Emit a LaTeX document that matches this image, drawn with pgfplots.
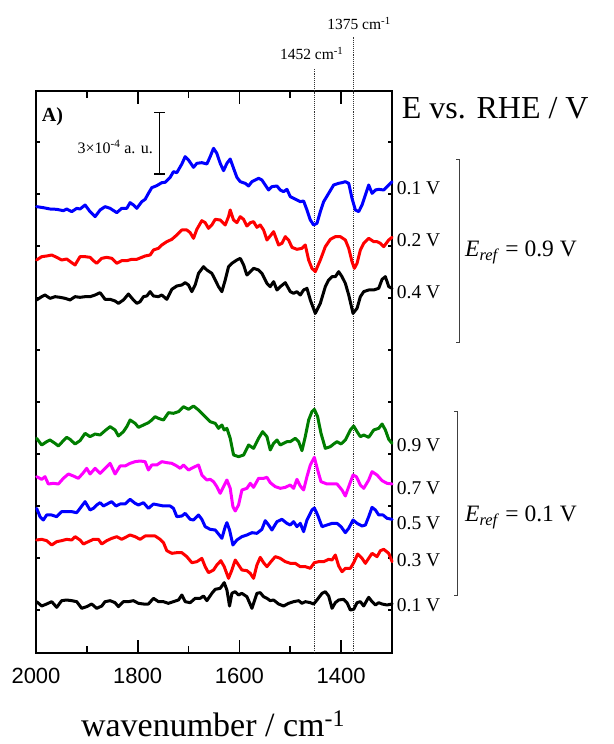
\documentclass[border=0pt]{standalone}
\usepackage{pgfplots}
\pgfplotsset{compat=1.18}
\usepackage{fontspec}
\setmainfont{Liberation Serif}
\newfontfamily\sansfont{Liberation Sans}
\definecolor{cgreen}{RGB}{0,125,0}
\definecolor{cmag}{RGB}{255,0,255}
\definecolor{cblue}{RGB}{0,0,255}
\definecolor{cred}{RGB}{255,0,0}
\begin{document}
\begin{tikzpicture}
\path[use as bounding box] (-36pt,-91pt) rectangle (577pt,653pt);
\begin{axis}[
  at={(0pt,0pt)}, anchor=south west,
  scale only axis, width=356pt, height=562pt,
  xmin=1300, xmax=2000, x dir=reverse,
  ymin=0, ymax=1686,
  clip=false,
  axis line style={line width=2.4pt},
  xtick={2000,1800,1600,1400},
  xticklabels={2000,1800,1600,1400},
  minor xtick={1900,1700,1500,1300},
  ytick={129,285,441,597,753,909,1065,1221,1377,1533},
  yticklabels={},
  tick align=inside,
  major tick length=13pt, minor tick length=7pt,
  xtick style={line width=1.8pt, black},
  minor tick style={line width=1.8pt, black},
  ytick style={line width=1.6pt, black, /pgfplots/major tick length=4pt},
  xticklabel style={font=\sansfont\fontsize{22}{22}\selectfont, anchor=center, yshift=-22.7pt},
  every axis plot/.append style={line join=round, line cap=round},
]
% reference lines
\addplot[densely dotted, line width=0.9pt, black!80, line cap=butt] coordinates {(1452,0) (1452,1755)};
\addplot[densely dotted, line width=0.9pt, black!80, line cap=butt] coordinates {(1375,0) (1375,1848)};

% E_ref = 0.9 V group
\addplot[cblue, line width=3pt] coordinates {
(1998.7,1339) (1985.6,1336) (1972.4,1332) (1959.3,1331) (1946.2,1327) (1939.6,1332) (1929.8,1324) (1919.9,1334) (1913.4,1332) (1903.5,1344)
(1893.7,1324) (1883.8,1309) (1874.0,1329) (1864.2,1339) (1854.3,1334) (1841.2,1321) (1831.4,1334) (1821.5,1334) (1815.0,1351) (1808.4,1344)
(1801.8,1334) (1792.0,1354) (1785.4,1361) (1778.9,1379) (1772.3,1396) (1762.5,1402) (1752.6,1411) (1746.1,1412) (1736.2,1427) (1729.7,1444)
(1723.1,1441) (1713.2,1467) (1706.7,1489) (1700.1,1479) (1690.3,1457) (1683.7,1469) (1673.9,1471) (1664.0,1467) (1657.5,1489) (1650.9,1514)
(1644.4,1499) (1637.8,1469) (1631.2,1447) (1624.6,1469) (1618.1,1482) (1611.5,1454) (1605.0,1427) (1598.4,1414) (1588.6,1409) (1582.0,1401)
(1575.4,1414) (1568.9,1419) (1562.3,1424) (1555.8,1419) (1549.2,1404) (1542.6,1389) (1536.1,1399) (1526.2,1401) (1519.7,1389) (1513.1,1384)
(1506.6,1391) (1500.0,1369) (1493.4,1364) (1486.9,1359) (1480.3,1354) (1473.8,1356) (1467.2,1329) (1460.6,1299) (1454.1,1284) (1447.5,1289)
(1440.9,1324) (1434.3,1354) (1424.5,1379) (1414.7,1404) (1404.8,1409) (1398.3,1411) (1391.7,1414) (1385.1,1409) (1378.6,1364) (1372.0,1329)
(1365.4,1324) (1358.9,1344) (1352.3,1374) (1345.8,1404) (1339.2,1379) (1332.6,1389) (1326.1,1391) (1316.2,1389) (1309.7,1399) (1299.8,1414)};
\addplot[cred, line width=3pt] coordinates {
(1998.7,1179) (1988.8,1189) (1979.0,1191) (1969.1,1194) (1959.3,1187) (1949.5,1179) (1939.6,1182) (1929.8,1171) (1923.2,1164) (1913.4,1189)
(1903.5,1189) (1893.7,1187) (1887.1,1177) (1880.6,1169) (1870.7,1184) (1860.9,1187) (1851.0,1184) (1841.2,1169) (1831.4,1177) (1821.5,1177)
(1811.7,1181) (1801.8,1181) (1792.0,1187) (1785.4,1191) (1775.6,1194) (1769.0,1209) (1759.2,1214) (1752.6,1224) (1742.8,1234) (1732.9,1241)
(1723.1,1254) (1713.2,1269) (1703.4,1269) (1696.8,1261) (1690.3,1244) (1683.7,1271) (1673.9,1297) (1667.3,1291) (1660.8,1274) (1654.2,1284)
(1647.6,1301) (1637.8,1299) (1627.9,1284) (1621.4,1309) (1618.1,1329) (1611.5,1299) (1605.0,1291) (1598.4,1309) (1591.8,1301) (1585.3,1281)
(1578.7,1291) (1572.2,1294) (1565.6,1277) (1559.0,1284) (1552.5,1269) (1545.9,1239) (1539.4,1251) (1532.8,1264) (1523.0,1224) (1516.4,1229)
(1509.8,1249) (1503.3,1239) (1496.7,1217) (1486.9,1211) (1477.0,1214) (1470.5,1224) (1463.9,1179) (1457.4,1154) (1450.8,1144) (1440.9,1179)
(1431.1,1219) (1421.2,1241) (1411.4,1249) (1401.5,1249) (1391.7,1239) (1385.1,1214) (1378.6,1174) (1374.0,1154) (1368.7,1169) (1362.2,1209)
(1355.6,1229) (1345.8,1244) (1335.9,1234) (1329.4,1234) (1322.8,1229) (1316.2,1219) (1306.4,1239) (1299.8,1247)};
\addplot[black, line width=3pt] coordinates {
(1998.7,1059) (1988.8,1069) (1982.3,1074) (1972.4,1064) (1962.6,1069) (1952.7,1067) (1942.9,1064) (1933.1,1059) (1923.2,1069) (1913.4,1067)
(1903.5,1069) (1893.7,1069) (1883.8,1074) (1874.0,1081) (1864.2,1061) (1854.3,1061) (1844.5,1056) (1837.9,1049) (1828.1,1059) (1818.2,1077)
(1808.4,1059) (1801.8,1049) (1795.3,1054) (1788.7,1069) (1782.1,1071) (1775.6,1084) (1769.0,1071) (1759.2,1069) (1752.6,1074) (1742.8,1061)
(1732.9,1091) (1723.1,1101) (1713.2,1104) (1706.7,1111) (1700.1,1104) (1693.6,1084) (1687.0,1104) (1680.4,1139) (1670.6,1159) (1664.0,1149)
(1654.2,1139) (1647.6,1119) (1641.1,1099) (1634.5,1084) (1627.9,1119) (1621.4,1159) (1614.8,1169) (1605.0,1179) (1598.4,1184) (1591.8,1164)
(1585.3,1134) (1578.7,1144) (1572.2,1154) (1562.3,1149) (1555.8,1139) (1545.9,1109) (1539.4,1099) (1532.8,1114) (1526.2,1089) (1519.7,1099)
(1509.8,1111) (1500.0,1084) (1493.4,1079) (1486.9,1084) (1480.3,1074) (1473.8,1089) (1467.2,1094) (1460.6,1059) (1450.8,1019) (1440.9,1049)
(1431.1,1099) (1424.5,1119) (1417.9,1129) (1411.4,1129) (1404.8,1144) (1398.3,1129) (1391.7,1109) (1385.1,1074) (1376.6,1019) (1368.7,1034)
(1362.2,1069) (1355.6,1084) (1345.8,1089) (1335.9,1089) (1326.1,1094) (1319.5,1121) (1313.0,1129) (1306.4,1099) (1299.8,1094)};

% E_ref = 0.1 V group
\addplot[cgreen, line width=3pt] coordinates {
(1998.7,644) (1988.8,624) (1979.0,634) (1972.4,639) (1962.6,629) (1956.0,621) (1946.2,637) (1939.6,647) (1933.1,641) (1923.2,627)
(1913.4,637) (1903.5,659) (1893.7,649) (1883.8,657) (1874.0,654) (1864.2,667) (1854.3,679) (1844.5,669) (1837.9,651) (1828.1,664)
(1821.5,679) (1815.0,699) (1805.1,689) (1798.5,677) (1788.7,684) (1778.9,691) (1772.3,699) (1765.7,709) (1759.2,704) (1749.3,699)
(1739.5,721) (1729.7,719) (1719.8,724) (1710.0,739) (1700.1,731) (1690.3,741) (1680.4,729) (1670.6,714) (1657.5,694) (1647.6,689)
(1641.1,674) (1634.5,684) (1629.9,669) (1624.6,674) (1618.1,644) (1611.5,594) (1601.7,589) (1591.8,594) (1582.0,624) (1572.2,614)
(1562.3,644) (1554.4,664) (1545.9,649) (1539.4,609) (1532.8,629) (1526.2,639) (1519.7,624) (1513.1,629) (1506.6,634) (1500.0,634)
(1490.2,644) (1483.6,634) (1477.0,607) (1470.5,649) (1463.9,699) (1457.4,724) (1452.7,731) (1446.2,709) (1439.6,659) (1431.1,614)
(1421.2,619) (1414.7,627) (1408.1,634) (1400.2,627) (1391.7,639) (1381.9,669) (1375.3,681) (1368.7,664) (1362.2,649) (1355.6,654)
(1345.8,647) (1335.9,669) (1326.1,674) (1319.5,687) (1313.0,669) (1306.4,641) (1299.8,629)};
\addplot[cmag, line width=3pt] coordinates {
(1998.7,529) (1988.8,521) (1982.3,529) (1975.7,507) (1965.9,509) (1956.0,507) (1946.2,524) (1936.3,537) (1926.5,531) (1916.7,524)
(1906.8,541) (1900.3,554) (1893.7,537) (1883.8,554) (1874.0,539) (1864.2,554) (1854.3,569) (1844.5,537) (1834.6,561) (1824.8,561)
(1815.0,569) (1805.1,574) (1795.3,576) (1785.4,574) (1778.9,549) (1772.3,564) (1762.5,564) (1752.6,574) (1742.8,571) (1732.9,569)
(1723.1,561) (1716.5,554) (1710.0,564) (1700.1,549) (1690.3,557) (1680.4,564) (1673.9,534) (1664.0,519) (1657.5,521) (1650.9,514)
(1644.4,499) (1637.8,479) (1631.2,499) (1624.6,519) (1618.1,494) (1612.8,439) (1608.2,426) (1601.7,444) (1595.1,489) (1585.3,494)
(1578.7,509) (1572.2,497) (1562.3,524) (1552.5,524) (1545.9,527) (1539.4,511) (1529.5,499) (1519.7,494) (1509.8,497) (1500.0,504)
(1493.4,494) (1486.9,521) (1480.3,501) (1473.8,489) (1467.2,529) (1460.6,564) (1452.7,587) (1446.2,549) (1439.6,514) (1427.8,507)
(1417.9,507) (1408.1,507) (1398.3,489) (1391.7,471) (1385.1,499) (1376.6,534) (1370.0,529) (1362.2,504) (1355.6,494) (1345.8,519)
(1339.2,544) (1329.4,534) (1319.5,517) (1309.7,509) (1299.8,507)};
\addplot[cblue, line width=3pt] coordinates {
(1998.7,434) (1992.1,409) (1985.6,399) (1979.0,414) (1969.1,414) (1959.3,409) (1949.5,424) (1939.6,424) (1929.8,424) (1919.9,421)
(1913.4,434) (1903.5,454) (1893.7,429) (1887.1,434) (1880.6,444) (1874.0,451) (1867.4,441) (1857.6,449) (1851.0,454) (1842.5,441)
(1834.6,447) (1824.8,447) (1815.0,461) (1805.1,449) (1798.5,444) (1788.7,451) (1778.9,434) (1769.0,447) (1759.2,444) (1749.3,441)
(1736.2,441) (1729.7,434) (1723.1,409) (1713.2,411) (1706.7,419) (1696.8,401) (1690.3,399) (1680.4,414) (1673.9,401) (1667.3,379)
(1657.5,371) (1647.6,369) (1641.1,357) (1634.5,344) (1627.9,379) (1624.6,391) (1619.4,369) (1612.8,324) (1605.0,339) (1595.1,349)
(1585.3,354) (1575.4,361) (1565.6,359) (1555.8,371) (1549.2,397) (1542.6,384) (1536.1,369) (1526.2,394) (1516.4,401) (1506.6,389)
(1500.0,384) (1493.4,394) (1486.9,379) (1480.3,389) (1473.8,364) (1467.2,399) (1457.4,429) (1452.7,435) (1446.2,414) (1437.6,379)
(1427.8,384) (1417.9,389) (1408.1,389) (1400.2,379) (1391.7,361) (1385.1,374) (1376.6,399) (1368.7,389) (1358.9,381) (1352.3,384)
(1345.8,409) (1339.2,437) (1332.6,429) (1326.1,414) (1317.6,414) (1309.7,404) (1299.8,401)};
\addplot[cred, line width=3pt] coordinates {
(1998.7,339) (1988.8,341) (1979.0,337) (1969.1,324) (1959.3,334) (1949.5,337) (1939.6,341) (1929.8,339) (1923.2,349) (1913.4,339)
(1906.8,327) (1897.0,334) (1887.1,341) (1877.3,341) (1870.7,327) (1860.9,337) (1851.0,344) (1841.2,349) (1831.4,341) (1821.5,349)
(1815.0,354) (1805.1,349) (1795.3,341) (1785.4,351) (1775.6,351) (1765.7,351) (1755.9,341) (1749.3,331) (1742.8,307) (1732.9,299)
(1723.1,301) (1713.2,301) (1703.4,289) (1693.6,271) (1683.7,274) (1673.9,284) (1667.3,259) (1660.8,241) (1650.9,249) (1644.4,264)
(1636.5,277) (1629.9,259) (1621.4,224) (1614.8,249) (1608.2,279) (1601.7,264) (1595.1,249) (1585.3,247) (1578.7,239) (1572.2,224)
(1565.6,264) (1559.0,287) (1552.5,271) (1545.9,259) (1538.0,274) (1529.5,289) (1519.7,284) (1509.8,274) (1500.0,269) (1490.2,269)
(1480.3,259) (1470.5,259) (1460.6,254) (1452.7,271) (1444.2,274) (1434.3,274) (1424.5,281) (1417.9,279) (1411.4,294) (1404.8,261)
(1398.3,244) (1391.7,254) (1381.9,254) (1375.3,271) (1367.4,297) (1358.9,284) (1352.3,269) (1345.8,284) (1339.2,299) (1329.4,289)
(1322.8,307) (1316.2,311) (1306.4,299) (1299.8,274)};
\addplot[black, line width=3pt] coordinates {
(1998.7,154) (1988.8,141) (1979.0,147) (1969.1,154) (1959.3,137) (1949.5,157) (1939.6,159) (1929.8,157) (1919.9,154) (1910.1,134)
(1900.3,139) (1890.4,147) (1880.6,134) (1870.7,141) (1864.2,154) (1854.3,157) (1844.5,151) (1837.9,139) (1828.1,154) (1818.2,154)
(1808.4,157) (1798.5,149) (1788.7,147) (1778.9,147) (1769.0,164) (1759.2,154) (1749.3,154) (1739.5,149) (1729.7,154) (1719.8,159)
(1713.2,174) (1706.7,154) (1696.8,151) (1687.0,164) (1677.2,164) (1670.6,171) (1664.0,157) (1654.2,179) (1647.6,191) (1637.8,194)
(1629.9,211) (1624.6,189) (1619.4,141) (1614.8,179) (1608.2,184) (1601.7,174) (1595.1,179) (1585.3,169) (1575.4,134) (1565.6,179)
(1559.0,181) (1552.5,169) (1545.9,164) (1539.4,157) (1532.8,159) (1523.0,147) (1513.1,141) (1503.3,149) (1493.4,154) (1483.6,157)
(1477.0,149) (1470.5,154) (1460.6,151) (1454.1,147) (1447.5,159) (1437.6,179) (1431.1,184) (1424.5,171) (1417.9,134) (1411.4,151)
(1404.8,159) (1395.0,161) (1388.4,151) (1381.9,129) (1375.3,131) (1368.7,151) (1362.2,154) (1355.6,141) (1349.0,159) (1345.8,167)
(1339.2,154) (1332.6,144) (1326.1,151) (1319.5,147) (1309.7,144) (1299.8,147)};
\end{axis}

% annotations (coordinates in pt, axis box from (0,0) to (356,562))
\node[anchor=base, inner sep=0pt, font=\fontsize{34}{34}\selectfont] at (177pt,-83pt) {wavenumber / cm\textsuperscript{-1}};
\node[anchor=base west, inner sep=0pt, font=\fontsize{32}{32}\selectfont] at (365.7pt,534.7pt) {E vs. RHE / V};
\node[anchor=base, inner sep=0pt, font=\fontsize{15.5}{15.5}\selectfont] at (275.7pt,593pt) {1452 cm\textsuperscript{-1}};
\node[anchor=base, inner sep=0pt, font=\fontsize{15.5}{15.5}\selectfont] at (323pt,623pt) {1375 cm\textsuperscript{-1}};
\node[anchor=base west, inner sep=0pt, font=\bfseries\fontsize{20}{20}\selectfont] at (5.7pt,531.3pt) {A)};
% scale bar
\draw[line width=1.4pt] (123.3pt,540.3pt) -- (123.3pt,479pt);
\draw[line width=1.4pt] (118pt,540.3pt) -- (129pt,540.3pt);
\draw[line width=1.4pt] (118pt,479pt) -- (129pt,479pt);
\node[anchor=base east, inner sep=0pt, font=\fontsize{16}{16}\selectfont] at (117pt,499.7pt) {3×10\textsuperscript{-4} a. u.};
% potential labels
\begin{scope}[every node/.style={anchor=west, inner sep=0pt, font=\fontsize{19.5}{19.5}\selectfont}]
\node at (360.7pt,464.7pt) {0.1 V};
\node at (360.7pt,413pt) {0.2 V};
\node at (360.7pt,361.3pt) {0.4 V};
\node at (360.7pt,208pt) {0.9 V};
\node at (360.7pt,164.7pt) {0.7 V};
\node at (360.7pt,129.7pt) {0.5 V};
\node at (360.7pt,93pt) {0.3 V};
\node at (360.7pt,48pt) {0.1 V};
\end{scope}
% brackets
\draw[line width=1pt, black!75] (420pt,493.7pt) -- (423.3pt,493.7pt) -- (423.3pt,310.7pt) -- (420pt,310.7pt);
\draw[line width=1pt, black!75] (418.4pt,241.3pt) -- (421.7pt,241.3pt) -- (421.7pt,57pt) -- (418.4pt,57pt);
\node[anchor=base west, inner sep=0pt, font=\fontsize{23.5}{23.5}\selectfont] at (429pt,396.3pt) {\textit{E}\textsubscript{\textit{ref}} = 0.9 V};
\node[anchor=base west, inner sep=0pt, font=\fontsize{23.5}{23.5}\selectfont] at (429pt,131.3pt) {\textit{E}\textsubscript{\textit{ref}} = 0.1 V};
\end{tikzpicture}
\end{document}
